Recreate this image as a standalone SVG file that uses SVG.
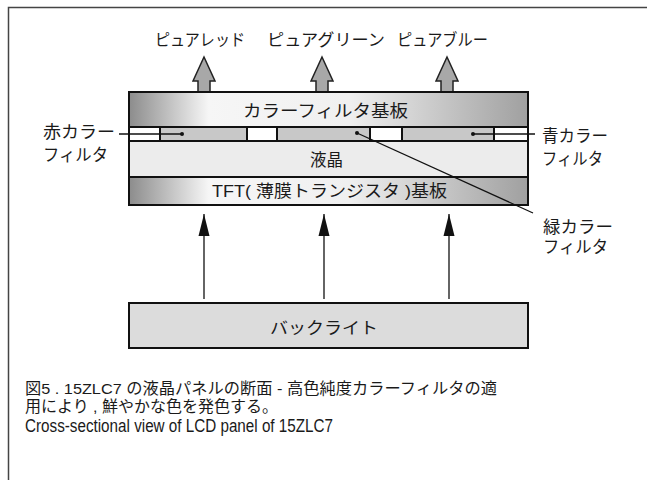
<svg xmlns="http://www.w3.org/2000/svg" width="647" height="480" viewBox="0 0 647 480">
<defs>
<style>
text{font-family:"Liberation Sans","Noto Sans CJK JP",sans-serif;fill:#1a1a1a;}
.lbl{font-size:16.5px;}
.cap{font-size:15.5px;}
.box{stroke:#111;stroke-width:2;}
.thin{stroke:#111;stroke-width:1.3;fill:none;}
.fat{fill:#a8a8a8;stroke:#222;stroke-width:1.5;stroke-linejoin:miter;}
</style>
<linearGradient id="g" x1="0" y1="0" x2="1" y2="0">
<stop offset="0" stop-color="#8c8c8c"/>
<stop offset="0.2" stop-color="#f6f6f6"/>
<stop offset="0.55" stop-color="#f0f0f0"/>
<stop offset="1" stop-color="#a0a0a0"/>
</linearGradient>
<marker id="ah" viewBox="0 0 22 12" refX="22" refY="6" markerWidth="22" markerHeight="12" markerUnits="userSpaceOnUse" orient="auto">
<path d="M0,0.5 L22,6 L0,11.5 Z" fill="#111"/>
</marker>
</defs>
<path d="M8.5,480 V7.5 H647" fill="none" stroke="#444" stroke-width="1.5"/>
<g id="top-labels">
<text class="lbl" x="155" y="46" textLength="90" lengthAdjust="spacingAndGlyphs">ピュアレッド</text>
<text class="lbl" x="267" y="46" textLength="118" lengthAdjust="spacingAndGlyphs">ピュアグリーン</text>
<text class="lbl" x="397" y="46" textLength="91" lengthAdjust="spacingAndGlyphs">ピュアブルー</text>
</g>
<g id="output-arrows">
<path class="fat" d="M204,57 L215,81 L210,81 L210,92 L198,92 L198,81 L193,81 Z"/>
<path class="fat" d="M322,57 L333,81 L328,81 L328,92 L316,92 L316,81 L311,81 Z"/>
<path class="fat" d="M447,57 L458,81 L453,81 L453,92 L441,92 L441,81 L436,81 Z"/>
</g>
<g id="panel">
<rect class="box" x="129" y="92" width="399" height="113" fill="url(#g)"/>
<g id="color-filter-substrate">
<text class="lbl" x="243" y="117" textLength="165" lengthAdjust="spacingAndGlyphs">カラーフィルタ基板</text>
</g>
<g id="filter-layer">
<rect class="box" x="129" y="127" width="399" height="14" fill="#fff"/>
<rect class="box" x="160" y="127" width="87" height="14" fill="#c8c8c8"/>
<rect class="box" x="277" y="127" width="93" height="14" fill="#c8c8c8"/>
<rect class="box" x="402" y="127" width="92" height="14" fill="#c8c8c8"/>
</g>
<g id="liquid-crystal">
<rect class="box" x="129" y="141" width="399" height="36" fill="#ececec"/>
<text class="lbl" x="310" y="166" textLength="33" lengthAdjust="spacingAndGlyphs">液晶</text>
</g>
<g id="tft-substrate">
<rect class="box" x="129" y="177" width="399" height="28" fill="url(#g)"/>
<text class="lbl" x="212" y="197" textLength="235" lengthAdjust="spacingAndGlyphs">TFT( 薄膜トランジスタ )基板</text>
</g>
</g>
<g id="connectors">
<line class="thin" x1="119" y1="134" x2="182" y2="134" stroke-width="1"/>
<circle cx="182" cy="134" r="2" fill="#111"/>
<line class="thin" x1="473" y1="134" x2="535" y2="134" stroke-width="1"/>
<circle cx="473" cy="134" r="2" fill="#111"/>
<line class="thin" x1="357" y1="133" x2="533" y2="213" stroke-width="1"/>
<circle cx="357" cy="133" r="2" fill="#111"/>
<line class="thin" x1="204" y1="299" x2="204" y2="214" marker-end="url(#ah)"/>
<line class="thin" x1="324" y1="299" x2="324" y2="214" marker-end="url(#ah)"/>
<line class="thin" x1="449" y1="299" x2="449" y2="214" marker-end="url(#ah)"/>
</g>
<g id="red-label">
<text class="lbl" x="43" y="138" textLength="72" lengthAdjust="spacingAndGlyphs">赤カラー</text>
<text class="lbl" x="43" y="161" textLength="65" lengthAdjust="spacingAndGlyphs">フィルタ</text>
</g>
<g id="blue-label">
<text class="lbl" x="542" y="142" textLength="66" lengthAdjust="spacingAndGlyphs">青カラー</text>
<text class="lbl" x="542" y="165" textLength="61" lengthAdjust="spacingAndGlyphs">フィルタ</text>
</g>
<g id="green-label">
<text class="lbl" x="543" y="233" textLength="70" lengthAdjust="spacingAndGlyphs">緑カラー</text>
<text class="lbl" x="543" y="253" textLength="65" lengthAdjust="spacingAndGlyphs">フィルタ</text>
</g>
<g id="backlight">
<rect class="box" x="129" y="303" width="399" height="45" fill="#dcdcdc" stroke-width="2.5"/>
<text class="lbl" x="270" y="334" textLength="108" lengthAdjust="spacingAndGlyphs">バックライト</text>
</g>
<g id="caption">
<text class="cap" x="25" y="394" textLength="472" lengthAdjust="spacingAndGlyphs">図5 . 15ZLC7 の液晶パネルの断面 - 高色純度カラーフィルタの適</text>
<text class="cap" x="25" y="412" textLength="253" lengthAdjust="spacingAndGlyphs">用により , 鮮やかな色を発色する。</text>
<text class="cap" x="25" y="432" style="font-size:17.5px" textLength="308" lengthAdjust="spacingAndGlyphs">Cross-sectional view of LCD panel of 15ZLC7</text>
</g>
</svg>
